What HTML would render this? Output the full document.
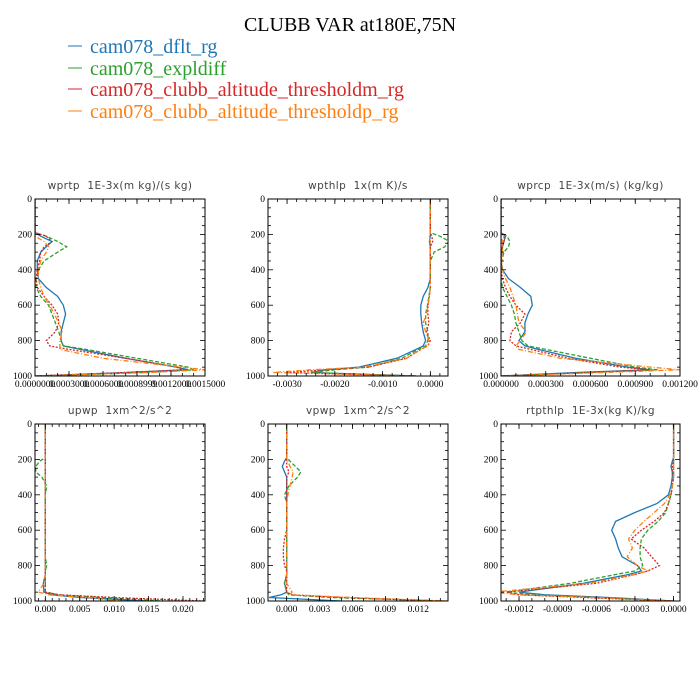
<!DOCTYPE html>
<html><head><meta charset="utf-8"><style>
body{margin:0;background:#fff;}
svg{display:block;}
.ttl{font-family:"Liberation Serif",serif;font-size:20px;}
.lg{font-family:"Liberation Serif",serif;font-size:20px;}
.pt{font-family:"DejaVu Sans","Liberation Sans",sans-serif;font-size:10.5px;fill:#444;white-space:pre;letter-spacing:0.4px;}
.tk{font-family:"Liberation Serif",serif;font-size:9.5px;fill:#000;}
</style></head><body>
<svg id="chart" width="700" height="700">
<text class="ttl" x="350" y="31" text-anchor="middle">CLUBB VAR at180E,75N</text>
<g>
<g><line x1="68" y1="46" x2="82" y2="46" stroke="#1f77b4"/><text class="lg" x="90" y="53" fill="#1f77b4">cam078_dflt_rg</text></g>
<g><line x1="68" y1="68" x2="82" y2="68" stroke="#2ca02c"/><text class="lg" x="90" y="75" fill="#2ca02c">cam078_expldiff</text></g>
<g><line x1="68" y1="89" x2="82" y2="89" stroke="#d62728"/><text class="lg" x="90" y="96" fill="#d62728">cam078_clubb_altitude_thresholdm_rg</text></g>
<g><line x1="68" y1="111" x2="82" y2="111" stroke="#ff7f0e"/><text class="lg" x="90" y="118" fill="#ff7f0e">cam078_clubb_altitude_thresholdp_rg</text></g>
</g>
</svg>
<script>
const levels=[0,100,190,210,240,270,300,350,400,450,500,550,600,650,700,750,800,830,850,900,950,965,980,1000];
const yTicks=[0,200,400,600,800,1000];
// wprtp (x1e-5)
const wprtpBlue  =[0,0,0,5,15,10,5,2,2,3,10,20,25,27,25,23,23,25,40,80,125,135,80,0];
const wprtpGreen =[0,0,0,10,20,28,20,8,3,1,1,5,12,15,18,21,23,25,45,90,135,140,100,0];
const wprtpRed   =[0,0,0,10,15,8,5,4,2,1,2,8,15,20,21,18,10,13,30,80,125,130,80,0];
const wprtpOrange=[0,0,0,0,8,12,10,5,3,3,5,8,13,17,21,24,22,22,22,60,130,150,100,0];
const wprtpTicks=[0,30,60,90,120,150];
const wprtpTickLabels=["0.0000000","0.0003000","0.0006000","0.0008999","0.0012000","0.0015000"];
// wpthlp (x1e-4)
const wpthlpBlue  =[0,0,0,0,-0.2,0,0,0,0,0,-0.5,-1.5,-2,-2,-1.8,-1.5,-1,-1.5,-3,-7,-15,-22,-25,-3];
const wpthlpGreen =[0,0,0,2,4,3,0.8,0,0,0,0,-0.3,-0.6,-1,-1,-0.5,-0.5,-1,-2.5,-6,-13,-20,-25,-3];
const wpthlpRed   =[0,0,0,0.3,0.5,0,0,0,0,0,0,-0.2,-0.5,-0.5,-0.3,-0.8,0,-0.5,-2,-5,-13,-22,-30,-3];
const wpthlpOrange=[0,0,0,-0.2,0,0,0,0,0,0,0,-0.2,-0.5,-0.8,-1.5,-1,-0.3,-0.5,-2,-5,-14,-25,-33,-3];
const wpthlpTicks=[-30,-20,-10,0];
const wpthlpTickLabels=["-0.0030","-0.0020","-0.0010","0.0000"];
// wprcp (x1e-4)
const wprcpBlue  =[0,0,0,0.3,0.2,0.1,0.05,0,0.1,0.5,1.3,2,2.1,1.8,1.6,1.6,1.2,1.6,2.5,5,8.5,10,5,0];
const wprcpGreen =[0,0,0,0.4,0.6,0.5,0.2,0.05,0,0,0.1,0.4,0.7,0.9,1,1.2,1.4,1.8,3,6,9,10.5,6,0];
const wprcpRed   =[0,0,0,0.2,0.2,0.1,0.05,0,0,0.1,0.3,0.6,1,1.6,1.3,0.7,0.6,1,2,4.5,8,10,6,0];
const wprcpOrange=[0,0,0,0,0.1,0.1,0.1,0.05,0.1,0.3,0.6,0.8,1,1.1,1.2,1.7,1.3,1,1.2,4,10,12,7,0];
const wprcpTicks=[0,3,6,9,12];
const wprcpTickLabels=["0.000000","0.000300","0.000600","0.000900","0.001200"];
// upwp (x1e-3)
const upwpBlue  =[0,0,0,0,0,0,0,0,0,0,0,0,0,0,0,0,0,0,0,-0.3,-0.2,1,5,15];
const upwpGreen =[0,0,0,-0.8,-1.4,-1.4,-0.5,0.2,0,0,0,0,0,0,0,0,0.2,0,0,0,0,2,8,17];
const upwpRed   =[0,0,0,0,0,0,0,0,0,0,0,0,0,0,0,0,0,0,0,0,0,2,10,23];
const upwpOrange=[0,0,0,0,0,0,0,0,0,0,0,0,0,0,0,0,0,0,0,-0.2,-1,0.5,6,11];
const upwpTicks=[0,5,10,15,20];
const upwpTickLabels=["0.000","0.005","0.010","0.015","0.020"];
// vpwp (x1e-3)
const vpwpBlue  =[0,0,0,-0.2,-0.4,-0.2,0,0,0,0,0,0,0,0,0,0,0,0,0,-0.2,0,-0.5,-1.6,5];
const vpwpGreen =[0,0,0,0.3,0.8,1.3,1,0.2,-0.2,0,0,0,0,0,0,0,0,0,0,-0.2,0,0.2,4,14.5];
const vpwpRed   =[0,0,0,0,0,0.2,0,0,0,0,0,0,0,-0.2,-0.3,-0.3,-0.2,0,0,0,0,0.5,5,14];
const vpwpOrange=[0,0,0,0.1,0.3,0.6,0.5,0.3,0.1,0,0,0,0,0,0,0,0,0,0,0,0.5,0.3,6,14.7];
const vpwpTicks=[0,3,6,9,12];
const vpwpTickLabels=["0.000","0.003","0.006","0.009","0.012"];
// rtpthlp (x1e-4)
const rtpthlpBlue  =[0,0,0,-0.1,-0.2,-0.1,-0.1,-0.2,-0.4,-1.3,-3,-4.5,-4.8,-4.5,-4.3,-4,-2.8,-2.5,-3.5,-7,-12,-10,-5,0];
const rtpthlpGreen =[0,0,0,0,0,0,0,-0.1,-0.2,-0.4,-0.6,-1.2,-2,-2.5,-2.6,-2.6,-2.4,-3,-4.5,-8,-13,-11,-6,0];
const rtpthlpRed   =[0,0,0,0,-0.1,-0.1,0,-0.1,-0.2,-0.4,-0.7,-1.5,-2.5,-3.3,-2.3,-1.7,-1.1,-2,-3,-6,-13,-12,-7,0];
const rtpthlpOrange=[0,0,0,0,0,0,0,-0.1,-0.3,-0.7,-1.5,-2.3,-3,-3.5,-3.2,-3.6,-2.8,-2,-3,-6.5,-14,-12,-6,0];
const rtpthlpTicks=[-12,-9,-6,-3,0];
const rtpthlpTickLabels=["-0.0012","-0.0009","-0.0006","-0.0003","0.0000"];

const colors=["#1f77b4","#2ca02c","#d62728","#ff7f0e"];
const dashes=["", "4,2", "2,1.5", "5,2,1,2"];
const snames=["dflt","expldiff","thresholdm","thresholdp"];
const NS="http://www.w3.org/2000/svg";
const svg=document.getElementById('chart');
function mk(t,a,p){const e=document.createElementNS(NS,t);for(const k in a)e.setAttribute(k,a[k]);(p||svg).appendChild(e);return e;}

const panels=[
 {name:"wprtp",title:"wprtp  1E-3x(m kg)/(s kg)",x0:35,x1:205,y0:199,y1:376,xmin:0,xmax:150,minor:10,series:[wprtpBlue,wprtpGreen,wprtpRed,wprtpOrange],ticks:wprtpTicks,labels:wprtpTickLabels},
 {name:"wpthlp",title:"wpthlp  1x(m K)/s",x0:268,x1:448,y0:199,y1:376,xmin:-34,xmax:3.7,minor:2,series:[wpthlpBlue,wpthlpGreen,wpthlpRed,wpthlpOrange],ticks:wpthlpTicks,labels:wpthlpTickLabels},
 {name:"wprcp",title:"wprcp  1E-3x(m/s) (kg/kg)",x0:501,x1:680,y0:199,y1:376,xmin:0,xmax:12,minor:1,series:[wprcpBlue,wprcpGreen,wprcpRed,wprcpOrange],ticks:wprcpTicks,labels:wprcpTickLabels},
 {name:"upwp",title:"upwp  1xm^2/s^2",x0:35,x1:205,y0:424,y1:601,xmin:-1.5,xmax:23.2,minor:1,series:[upwpBlue,upwpGreen,upwpRed,upwpOrange],ticks:upwpTicks,labels:upwpTickLabels},
 {name:"vpwp",title:"vpwp  1xm^2/s^2",x0:268,x1:448,y0:424,y1:601,xmin:-1.7,xmax:14.7,minor:1,series:[vpwpBlue,vpwpGreen,vpwpRed,vpwpOrange],ticks:vpwpTicks,labels:vpwpTickLabels},
 {name:"rtpthlp",title:"rtpthlp  1E-3x(kg K)/kg",x0:501,x1:680,y0:424,y1:601,xmin:-13.4,xmax:0.5,minor:1,series:[rtpthlpBlue,rtpthlpGreen,rtpthlpRed,rtpthlpOrange],ticks:rtpthlpTicks,labels:rtpthlpTickLabels}
];
panels.forEach(p=>{
 const g=mk('g',{});
 
 
 const sx=v=>p.x0+(v-p.xmin)/(p.xmax-p.xmin)*(p.x1-p.x0);
 const sy=v=>p.y0+v/1000*(p.y1-p.y0);
 const t=mk('text',{x:(p.x0+p.x1)/2,y:p.y0-10,'text-anchor':'middle',class:'pt'},g);t.textContent=p.title;
 
 
 const clipId='clip-'+p.name;
 const cp=mk('clipPath',{id:clipId},g);mk('rect',{x:p.x0,y:p.y0,width:p.x1-p.x0,height:p.y1-p.y0},cp);
 p.series.forEach((vals,i)=>{
  const pts=vals.map((v,j)=>sx(v).toFixed(1)+','+sy(levels[j]).toFixed(1)).join(' ');
  const pl=mk('polyline',{points:pts,fill:'none',stroke:colors[i],'stroke-width':1.3,'stroke-dasharray':dashes[i],'clip-path':'url(#'+clipId+')'},g);
  
  
 });
 const fr=mk('rect',{x:p.x0,y:p.y0,width:p.x1-p.x0,height:p.y1-p.y0,fill:'none',stroke:'#000','stroke-width':1},g);
 
 
 for(let v=0;v<=1000;v+=50){const y=sy(v),L=(v%200===0)?5:3;
  mk('line',{x1:p.x0,y1:y,x2:p.x0+L,y2:y,stroke:'#000','stroke-width':0.8},g);
  mk('line',{x1:p.x1,y1:y,x2:p.x1-L,y2:y,stroke:'#000','stroke-width':0.8},g);}
 yTicks.forEach(v=>{const tt=mk('text',{x:p.x0-3,y:sy(v)+3,'text-anchor':'end',class:'tk'},g);tt.textContent=v;
  
  });
 const st=Math.ceil(p.xmin/p.minor)*p.minor;
 for(let v=st;v<=p.xmax+1e-9;v+=p.minor){const x=sx(v);
  mk('line',{x1:x,y1:p.y1,x2:x,y2:p.y1-3,stroke:'#000','stroke-width':0.8},g);
  mk('line',{x1:x,y1:p.y0,x2:x,y2:p.y0+3,stroke:'#000','stroke-width':0.8},g);}
 p.ticks.forEach((v,i)=>{const x=sx(v);
  mk('line',{x1:x,y1:p.y1,x2:x,y2:p.y1-5,stroke:'#000','stroke-width':0.8},g);
  mk('line',{x1:x,y1:p.y0,x2:x,y2:p.y0+5,stroke:'#000','stroke-width':0.8},g);
  const tt=mk('text',{x:x,y:p.y1+11,'text-anchor':'middle',class:'tk'},g);tt.textContent=p.labels[i];
  
  });
});
</script>
</body></html>
